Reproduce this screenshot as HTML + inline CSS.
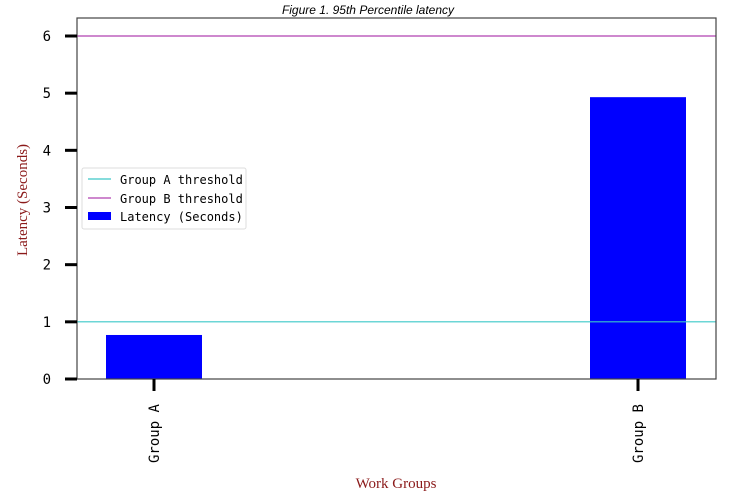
<!DOCTYPE html>
<html><head><meta charset="utf-8"><style>
body{margin:0;background:#fff;width:732px;height:502px;overflow:hidden}
svg{display:block}
.mono{font-family:"DejaVu Sans Mono","Liberation Mono",monospace}
</style></head><body>
<svg id="c" width="732" height="502">
<text x="368" y="14" text-anchor="middle" font-family="Liberation Sans,sans-serif" font-style="italic" font-size="12">Figure 1. 95th Percentile latency</text>
<g id="plot"></g>
<text x="396" y="488" text-anchor="middle" font-family="Liberation Serif,serif" font-size="15" fill="#8b1a1a">Work Groups</text>
<text transform="translate(27,200) rotate(-90)" text-anchor="middle" font-family="Liberation Serif,serif" font-size="15" fill="#8b1a1a">Latency (Seconds)</text>
<g>
<rect x="82" y="168" width="164" height="61" fill="#fff" stroke="#ddd" rx="2"/>
<line x1="88" y1="179" x2="111" y2="179" stroke="#3cc8c8" stroke-width="1.2"/>
<text x="120" y="184" class="mono" font-size="12">Group A threshold</text>
<line x1="88" y1="198" x2="111" y2="198" stroke="#b040b0" stroke-width="1.2"/>
<text x="120" y="203" class="mono" font-size="12">Group B threshold</text>
<rect x="88" y="212" width="23" height="8" fill="#0000ff"/>
<text x="120" y="221" class="mono" font-size="12">Latency (Seconds)</text>
</g>
</svg>
<script>
const categories = ["Group A", "Group B"];
const latencyValues = [0.77, 4.93];
const thresholdNames = ["Group A threshold", "Group B threshold"];
const thresholdValues = [1, 6];
const yTicks = [0, 1, 2, 3, 4, 5, 6];

const NS = "http://www.w3.org/2000/svg";
const L = 77, R = 716, T = 18, B = 379;
const y = v => B - v * (B - 36) / 6;
const xCenters = [154, 638];
const x = i => xCenters[0] + i * (xCenters[1] - xCenters[0]) / Math.max(1, categories.length - 1);
const g = document.getElementById("plot");
function mk(tag, attrs) { const e = document.createElementNS(NS, tag); for (const k in attrs) e.setAttribute(k, attrs[k]); g.appendChild(e); return e; }

latencyValues.forEach((v, i) => {
  const r = mk("rect", {x: x(i) - 48, y: y(v), width: 96, height: B - y(v), fill: "#0000ff"});
  
  
});
const colors = ["#3cc8c8", "#b040b0"];
thresholdValues.forEach((v, i) => {
  const l = mk("line", {x1: L, x2: R, y1: y(v), y2: y(v), stroke: colors[i], "stroke-width": 1.2});
  
  
});
const frame = mk("rect", {x: L, y: T, width: R - L, height: B - T, fill: "none", stroke: "#444", "stroke-width": 1.2});


yTicks.forEach(t => {
  const tk = mk("line", {x1: 65, x2: L, y1: y(t), y2: y(t), stroke: "#000", "stroke-width": 3});
  
  
  const tx = mk("text", {x: 51, y: y(t) + 5, "text-anchor": "end", class: "mono", "font-size": 14});
  tx.textContent = t;
  
  
});
categories.forEach((c, i) => {
  const tk = mk("line", {x1: x(i), x2: x(i), y1: B, y2: 391, stroke: "#000", "stroke-width": 3});
  
  
  const tx = mk("text", {transform: `translate(${x(i) + 5},404) rotate(-90)`, "text-anchor": "end", class: "mono", "font-size": 14});
  tx.textContent = c;
  
  
});
</script>
</body></html>
